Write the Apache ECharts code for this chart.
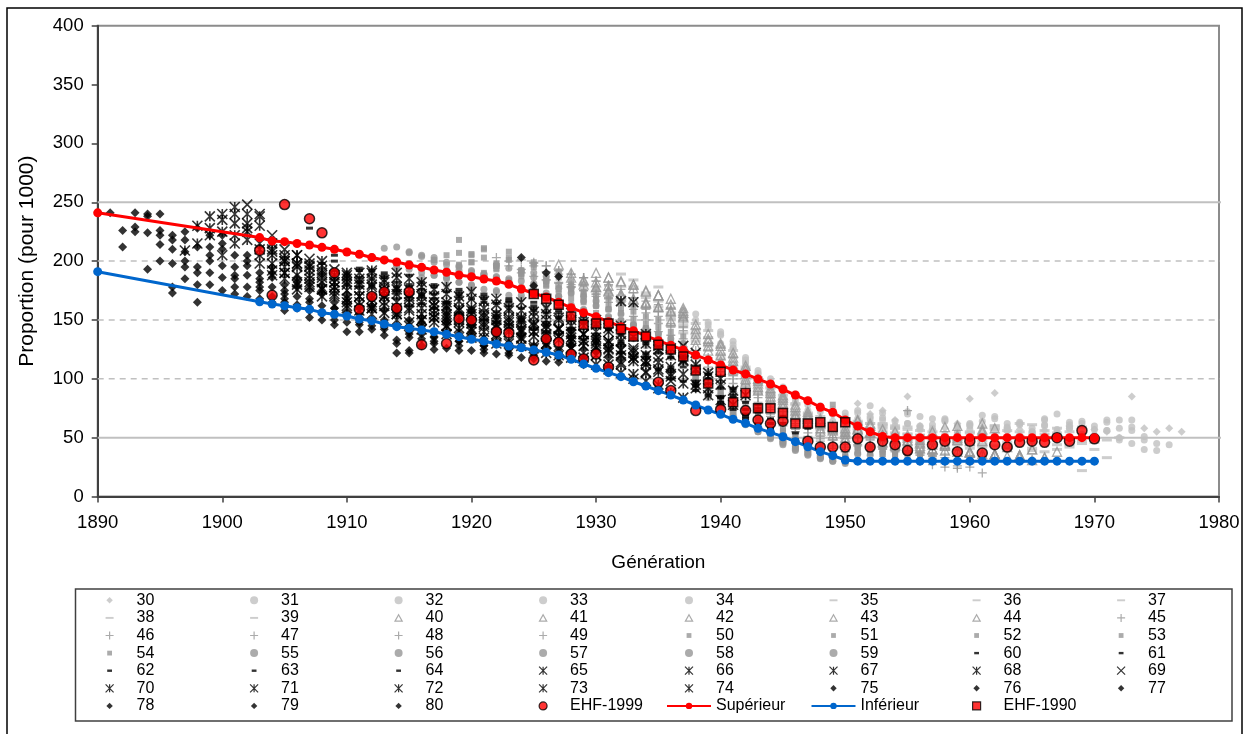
<!DOCTYPE html>
<html><head><meta charset="utf-8">
<script src="https://cdn.jsdelivr.net/npm/echarts@6/dist/echarts.min.js"></script>
<style>html,body{margin:0;padding:0;background:#fff}#c{width:1247px;height:734px}</style>
</head><body><div id="c"></div>
<script>
// ---- data ----
const ages = [30,31,32,33,34,35,36,37,38,39,40,41,42,43,44,45,46,47,48,49,50,51,52,53,54,55,56,57,58,59,60,61,62,63,64,65,66,67,68,69,70,71,72,73,74,75,76,77,78,79,80];
// first generation of each age series (values below are for consecutive generations)
const firstGen = [1941,1940,1939,1938,1937,1936,1935,1934,1933,1932,1931,1930,1929,1928,1927,1926,1925,1924,1923,1922,1921,1920,1919,1918,1917,1916,1915,1914,1913,1912,1911,1910,1909,1908,1907,1906,1905,1904,1903,1902,1901,1900,1899,1898,1897,1896,1895,1894,1893,1892,1891];

const v30 = [121,109,102,92,87,80,82,73,69,62,79,70,73,65,85,60,57,58,62,83,59,88,55,57,53,56,54,60,52,57,55,50,85,58,55,58,55];
const v31 = [138,126,114,105,96,89,84,80,76,72,65,73,77,65,55,62,58,66,53,60,57,64,51,59,62,55,61,53,58,64,52,56,58,65,48,39,44];
const v32 = [146,140,132,118,107,100,93,87,81,77,74,71,66,68,58,64,72,57,61,66,54,60,69,56,62,52,58,65,55,61,50,57,63,48,45,40,45];
const v33 = [155,143,137,129,116,100,94,90,85,78,75,70,68,71,63,67,58,70,60,56,65,59,62,54,68,58,61,55,66,57,63,53,60,56,65,59,51];
const v34 = [158,150,148,130,126,112,104,97,86,82,73,72,64,66,62,66,71,60,62,68,58,64,55,61,52,66,57,63,54,60,70,58,62,52,65,50,56];
const v35 = [160,153,136,141,120,103,110,88,92,74,79,64,68,54,59,63,57,62,58,59,52,55,47,49,45,44,43,56,50,61,48,54,42,59,46,33,50];
const v36 = [178,152,144,147,130,111,124,95,99,80,83,67,70,57,60,52,56,62,58,60,53,56,48,50,45,44,42,57,49,62,46,53,40,55,47,40,48];
const v37 = [173,166,156,139,142,124,127,106,108,90,93,76,78,63,66,55,57,60,58,61,54,57,48,51,45,44,41,52,60,46,55,41,49,58,44,45,48];
const v38 = [178,161,158,145,150,132,135,117,118,98,101,84,86,70,71,58,62,53,58,62,55,58,49,52,45,44,40,54,47,58,43,51,39,56,44,49,22];
const v39 = [189,184,169,161,150,146,139,128,121,112,103,96,88,80,72,66,61,58,55,64,56,60,50,53,46,45,40,48,55,44,60,42,50,46,38,52,45];
const v40 = [179,172,180,164,171,158,160,142,138,128,122,108,100,90,86,76,72,64,60,55,58,62,52,55,47,46,40,44,52,38,47,36,42,35,40,33,38];
const v41 = [182,175,183,167,174,161,168,153,146,132,130,115,111,96,92,82,78,68,66,57,58,65,54,57,49,48,41,44,43,50,38,57,36,45,35,40,33];
const v42 = [184,178,186,170,177,164,171,157,158,138,134,124,118,104,98,88,84,73,70,62,59,53,57,60,51,50,42,43,55,39,48,37,36,58,45,35,31];
const v43 = [186,180,190,174,182,168,175,161,163,152,133,128,120,112,100,93,85,79,70,66,58,56,50,64,54,52,44,50,45,40,59,38,47,62,36,44,33];
const v44 = [197,190,183,178,186,172,180,165,171,149,156,128,124,115,108,97,90,82,76,68,63,56,52,48,57,55,46,43,52,48,40,45,60,37,55,35,34];
const v45 = [196,189,180,186,172,180,166,173,159,153,160,141,124,118,112,103,95,87,80,72,66,60,54,50,46,59,49,43,46,73,38,37,36,36,35,34,33];
const v46 = [198,191,182,189,175,183,169,176,162,156,163,144,151,120,115,106,100,90,84,76,70,62,58,51,48,44,51,43,47,41,39,37,35,33,30,28,20];
const v47 = [201,196,184,192,178,186,172,179,165,159,166,147,154,134,117,110,103,96,88,80,74,66,60,54,49,45,42,43,48,42,40,38,36,34,30,26,25];
const v48 = [200,193,187,196,181,189,175,183,168,162,169,150,157,137,144,112,108,98,92,84,78,70,63,57,51,47,43,40,50,43,41,39,37,35,32,28,24];
const v49 = [203,196,190,199,184,192,178,186,170,165,171,153,160,140,147,127,108,104,95,88,81,74,68,60,55,49,45,41,38,44,42,40,38,36,30,27,25];
const v50 = [203,196,208,192,199,185,191,179,172,167,174,156,162,143,150,130,136,104,99,92,85,78,71,64,58,52,47,43,78,36,44,42,40,39,37,36,35];
const v51 = [205,211,196,203,189,197,183,190,176,170,177,159,165,146,153,133,140,123,100,96,88,82,75,68,62,56,50,45,41,37,34,44,42,40,38,37,35];
const v52 = [207,199,210,193,201,187,195,180,172,173,180,162,168,149,157,137,144,127,120,97,92,85,78,72,66,60,54,48,44,40,36,33,42,40,38,36,35];
const v53 = [205,197,206,190,198,184,192,178,170,176,183,165,171,152,160,140,147,131,124,130,110,98,88,78,71,64,58,52,47,42,38,35,32,41,38,36,35];
const v54 = [201,192,218,199,187,194,182,190,176,179,186,168,174,156,163,144,151,136,129,135,120,108,95,86,77,69,62,56,50,45,41,37,34,31,39,37,36];
const v55 = [195,203,186,196,180,189,174,183,168,181,187,170,177,159,166,147,155,139,132,139,124,130,104,93,83,75,67,60,54,48,43,39,35,32,30,37,35];
const v56 = [198,205,188,199,182,192,176,186,171,183,190,173,180,163,170,151,159,143,136,143,128,134,117,101,90,81,73,65,58,52,47,42,38,34,31,29,36];
const v57 = [196,208,190,201,185,195,179,189,175,185,192,176,183,166,173,154,162,146,138,146,131,138,121,127,98,88,79,71,63,57,51,46,41,37,33,30,28];
const v58 = [200,212,193,204,188,197,182,191,185,187,194,178,186,169,177,158,166,149,142,150,134,142,125,131,114,95,86,77,69,62,55,50,45,40,36,32,30];
const v59 = [204,211,195,207,186,199,180,192,176,188,197,182,171,180,162,170,151,158,145,153,138,146,128,135,118,123,92,84,75,68,61,55,49,44,39,35,33];
const v60 = [192,180,190,178,170,182,172,165,174,158,170,154,166,150,162,146,158,142,153,136,148,130,140,120,130,108,118,96,104,84,92,74,78,62,68,54,58];
const v61 = [188,182,172,186,175,162,176,168,155,170,152,165,148,162,144,158,140,152,136,148,130,142,122,134,112,122,100,110,90,96,78,84,68,72,58,62,48];
const v62 = [205,190,178,185,176,168,180,172,160,174,156,168,150,164,146,160,142,156,138,150,133,145,126,138,118,130,108,118,98,106,86,92,74,80,62,66,52];
const v63 = [212,200,180,186,192,170,182,178,164,178,160,172,156,168,152,165,148,160,145,156,140,150,134,146,128,138,118,128,106,115,94,100,80,86,66,72,56];
const v64 = [228,198,192,185,194,178,188,172,188,170,180,165,176,160,172,157,168,152,165,148,160,143,155,138,150,132,142,122,132,110,120,98,104,85,90,70,75];
const v65 = [198,188,200,182,190,170,192,175,190,168,182,162,178,158,174,154,168,150,165,146,160,142,156,138,150,132,145,124,138,114,126,104,112,92,100,78,86];
const v66 = [205,182,196,186,178,175,190,155,182,165,185,160,176,155,170,150,166,146,160,142,157,138,152,135,148,130,143,124,136,115,128,104,116,95,105,82,90];
const v67 = [210,195,205,180,192,172,185,165,190,170,186,158,178,152,172,148,168,144,163,140,158,136,155,133,150,128,146,122,138,115,130,106,120,96,108,86,95];
const v68 = [230,215,200,188,198,176,188,162,182,168,184,160,176,155,170,150,166,147,160,143,158,140,153,136,150,132,145,126,140,120,165,112,125,102,115,92,102];
const v69 = [248,240,222,210,195,202,182,193,168,185,160,178,155,172,150,165,145,160,142,156,138,152,134,148,130,143,126,138,120,132,114,126,106,118,98,128,122];
const v70 = [246,225,238,205,190,205,185,196,178,188,158,180,162,176,145,170,148,162,140,158,135,152,130,150,126,145,120,140,115,135,108,166,100,120,92,110,84];
const v71 = [240,222,232,215,192,202,176,195,170,182,160,175,165,170,150,165,142,158,138,152,135,148,130,145,128,140,122,136,118,132,112,126,105,118,98,108,88];
const v72 = [228,205,232,240,198,208,185,198,178,188,170,180,162,178,156,172,148,165,152,160,143,155,140,150,132,148,128,142,124,138,118,132,112,125,104,115,95];
const v73 = [215,238,225,240,218,210,188,200,180,192,176,186,165,180,160,175,155,170,150,162,145,158,140,152,136,148,135,145,130,142,126,138,120,130,112,122,105];
const v74 = [209,230,222,235,215,228,205,198,190,196,182,190,175,182,170,185,165,178,160,172,155,165,150,160,146,155,142,152,140,150,136,145,132,140,125,132,118];
const v75 = [210,218,165,212,222,188,200,178,190,168,182,160,175,155,168,148,162,144,122,138,148,135,150,132,145,128,140,126,203,179,130,122,128,115,124,110,118];
const v76 = [240,222,195,228,190,215,195,205,185,195,175,186,165,180,160,172,152,168,148,160,135,152,140,155,138,150,134,147,130,142,128,190,187,135,125,132,118];
const v77 = [193,200,198,225,180,200,210,178,196,175,186,165,178,158,172,150,165,146,160,142,155,122,145,132,150,135,146,128,142,125,138,122,136,125,132,118,125];
const v78 = [225,238,222,173,208,195,222,186,205,178,190,170,180,163,175,150,165,140,160,145,158,130,150,138,130,146,128,140,125,138,122,135,120,132,118,128,112];
const v79 = [212,241,240,226,218,185,212,180,196,172,188,168,178,158,170,152,162,146,156,140,150,137,145,124,134,125,140,124,135,122,131,120,128,117,126,114,122];
const v80 = [241,226,229,224,214,178,200,190,205,175,185,170,182,165,172,160,168,155,160,148,155,142,150,133,140,128,136,126,132,124,130,121,127,118,124,115,120];

const ageValues = [v30,v31,v32,v33,v34,v35,v36,v37,v38,v39,v40,v41,v42,v43,v44,v45,v46,v47,v48,v49,v50,v51,v52,v53,v54,v55,v56,v57,v58,v59,v60,v61,v62,v63,v64,v65,v66,v67,v68,v69,v70,v71,v72,v73,v74,v75,v76,v77,v78,v79,v80];

const ehf1999 = [[1903,209],[1904,171],[1905,248],[1907,236],[1908,224],[1909,190],[1911,159],[1912,170],[1913,174],[1914,160],[1915,174],[1916,129],[1918,130],[1919,151],[1920,150],[1922,140],[1923,139],[1925,116],[1926,134],[1927,131],[1928,121],[1929,117],[1930,121],[1931,110],[1935,97],[1936,90],[1938,73],[1940,74],[1942,73],[1943,65],[1944,62],[1945,64],[1947,47],[1948,42],[1949,42],[1950,42],[1951,49],[1952,42],[1953,47],[1954,44],[1955,39],[1957,44],[1958,47],[1959,38],[1960,47],[1961,37],[1962,44],[1963,42],[1964,46],[1965,47],[1966,46],[1967,50],[1968,47],[1969,56],[1970,49]];
const ehf1990 = [[1925,172],[1926,168],[1927,163],[1928,153],[1929,146],[1930,147],[1931,147],[1932,142],[1933,136],[1934,136],[1935,129],[1936,125],[1937,119],[1938,107],[1939,96],[1940,106],[1941,80],[1942,88],[1943,75],[1944,75],[1945,71],[1946,62],[1947,62],[1948,63],[1949,59],[1950,63]];
const superieur = [[1890,241],[1903,220],[1904,217],[1905,216.5],[1906,215],[1907,213.7],[1908,211.7],[1909,210],[1910,207.7],[1911,205.8],[1912,203],[1913,201],[1914,199.2],[1915,196.7],[1916,194.7],[1917,192.4],[1918,190.5],[1919,188.2],[1920,186.7],[1921,184.8],[1922,183.1],[1923,180.3],[1924,176.3],[1925,172.5],[1926,169.5],[1927,165],[1928,160.4],[1929,156.2],[1930,152.8],[1931,148.5],[1932,144.3],[1933,140.9],[1934,136.4],[1935,132.4],[1936,128.4],[1937,124.5],[1938,120.2],[1939,116],[1940,111.7],[1941,107.5],[1942,104.1],[1943,99.8],[1944,95.6],[1945,91.1],[1946,86.2],[1947,81.4],[1948,75.8],[1949,71.5],[1950,65],[1951,59.9],[1952,55],[1953,51],[1954,50],[1955,50],[1956,50],[1957,50],[1958,50],[1959,50],[1960,50],[1961,50],[1962,50],[1963,50],[1964,50],[1965,50],[1966,50],[1967,50],[1968,50],[1969,50],[1970,50]];
const inferieur = [[1890,191],[1903,165.5],[1904,163.5],[1905,162.1],[1906,160.4],[1907,159],[1908,156.2],[1909,154.8],[1910,153.4],[1911,150.8],[1912,149.4],[1913,146.6],[1914,144.3],[1915,142.9],[1916,141.5],[1917,140],[1918,137.8],[1919,135.8],[1920,133.6],[1921,132.1],[1922,129.6],[1923,127.9],[1924,126.4],[1925,124.5],[1926,122.5],[1927,120.2],[1928,116.6],[1929,112.6],[1930,108.9],[1931,105.2],[1932,101.8],[1933,97.5],[1934,93.9],[1935,89.9],[1936,86.2],[1937,82],[1938,77.7],[1939,73.5],[1940,69.8],[1941,65.6],[1942,62.2],[1943,57.9],[1944,54.5],[1945,50.8],[1946,46.6],[1947,42.3],[1948,38.1],[1949,34.7],[1950,31],[1951,30],[1952,30],[1953,30],[1954,30],[1955,30],[1956,30],[1957,30],[1958,30],[1959,30],[1960,30],[1961,30],[1962,30],[1963,30],[1964,30],[1965,30],[1966,30],[1967,30],[1968,30],[1969,30],[1970,30]];
const solidLevels = [50, 250];
const dashedLevels = [100, 150, 200];
const refLineSpan = [1890, 1983];

// ---- styles ----
const FONT = '"Liberation Sans", Arial, sans-serif';
const LIGHT = '#c0c0c0', MID = '#969696', BLACK = '#000000';
const P_AST = 'path://M0,0L10,10M10,0L0,10M5,0L5,10';
const P_X = 'path://M0,0L10,10M10,0L0,10';
const P_PLUS = 'path://M5,0L5,10M0,5L10,5';
// legend icons (padded so they keep a small, square footprint)
const I_LDASH = 'path://M0,0M10,10M0,3.8L10,3.8L10,6.2L0,6.2Z';
const I_BDASH = 'path://M0,0M10,10M2,3.5L8,3.5L8,6.5L2,6.5Z';
const I_DIAM = 'path://M0,0M10,10M5,1L9,5L5,9L1,5Z';
const I_TRI = 'path://M0,0M10,10M5,1L9.5,9L0.5,9Z';
const I_SQ = 'path://M0,0M10,10M2,2L8,2L8,8L2,8Z';
const I_BIGSQ = 'path://M0,0L10,0L10,10L0,10Z';

function ageStyle(a) {
  if (a === 30) return {symbol: 'diamond', size: 8, fill: LIGHT, icon: I_DIAM};
  if (a <= 34) return {symbol: 'circle', size: 7, fill: LIGHT};
  if (a <= 39) return {symbol: 'rect', size: [10, 3], fill: LIGHT, icon: I_LDASH};
  if (a <= 44) return {symbol: 'triangle', size: 9, stroke: MID, sw: 1.3, icon: I_TRI};
  if (a <= 49) return {symbol: P_PLUS, size: 9, stroke: MID, sw: 1.3};
  if (a <= 54) return {symbol: 'rect', size: 6, fill: MID, icon: I_SQ};
  if (a <= 59) return {symbol: 'circle', size: 7, fill: MID};
  if (a <= 64) return {symbol: 'rect', size: [7, 3], fill: BLACK, icon: I_BDASH};
  if (a === 69) return {symbol: P_X, size: 10, stroke: BLACK, sw: 1.6};
  if (a <= 74) return {symbol: P_AST, size: 10, stroke: BLACK, sw: 1.6};
  return {symbol: 'diamond', size: 9, fill: BLACK, icon: I_DIAM};
}

const series = [];
const legendData = [];
// reference grid lines (extend beyond plot like the original)
solidLevels.concat(dashedLevels).forEach(lv => {
  const solid = solidLevels.includes(lv);
  series.push({
    type: 'line', silent: true, clip: false, z: 1, symbol: 'none',
    data: refLineSpan.map(x => [x, lv]),
    lineStyle: {color: '#c0c0c0', width: solid ? 2 : 1.5, type: solid ? 'solid' : [6, 5]}
  });
});
ages.forEach((a, k) => {
  const st = ageStyle(a);
  const itemStyle = st.stroke
    ? {color: 'rgba(0,0,0,0)', borderColor: st.stroke, borderWidth: st.sw}
    : {color: st.fill};
  series.push({
    name: String(a), type: 'scatter', z: 2,
    symbol: st.symbol, symbolSize: st.size, itemStyle: itemStyle,
    data: ageValues[k].map((v, i) => [firstGen[k] + i, v])
  });
  const ld = {name: String(a)};
  if (st.icon) ld.icon = st.icon;
  legendData.push(ld);
});
series.push({name: 'EHF-1999', type: 'scatter', z: 3, symbol: 'circle', symbolSize: 10,
  itemStyle: {color: '#ff0000', borderColor: '#000', borderWidth: 1.5}, data: ehf1999});
series.push({name: 'Supérieur', type: 'line', z: 3, symbol: 'circle', symbolSize: 9, showSymbol: true,
  itemStyle: {color: '#ff0000'}, lineStyle: {color: '#ff0000', width: 3}, data: superieur});
series.push({name: 'Inférieur', type: 'line', z: 3, symbol: 'circle', symbolSize: 9, showSymbol: true,
  itemStyle: {color: '#0066cc'}, lineStyle: {color: '#0066cc', width: 3}, data: inferieur});
series.push({name: 'EHF-1990', type: 'scatter', z: 3, symbol: 'rect', symbolSize: 9,
  itemStyle: {color: '#ff0000', borderColor: '#000', borderWidth: 1.5}, data: ehf1990});
legendData.push({name: 'EHF-1999'}, {name: 'Supérieur'}, {name: 'Inférieur'}, {name: 'EHF-1990', icon: I_BIGSQ});

// legend: 8 columns, one vertical legend per column
const lineNames = ['Supérieur', 'Inférieur'];
const legends = [];
for (let c = 0; c < 8; c++) {
  const items = legendData.filter((d, i) => i % 8 === c);
  const hasLine = items.some(d => lineNames.includes(d.name));
  legends.push({
    show: true, selectedMode: false, orient: 'vertical',
    left: 88 + c * 144.5 + (hasLine ? 0 : 17), top: 591.5, padding: 0, itemGap: 0,
    itemWidth: 44, itemHeight: 8,
    itemStyle: {borderWidth: 1.2},
    textStyle: {fontSize: 16, color: '#000', fontFamily: FONT, lineHeight: 17.6},
    data: items
  });
}

const axisLineStyle = {color: '#404040', width: 2};
const chart = echarts.init(document.getElementById('c'), null, {renderer: 'canvas'});
chart.setOption({
  animation: false,
  backgroundColor: '#ffffff',
  textStyle: {fontFamily: FONT},
  grid: {left: 97.7, top: 25.7, width: 1121.3, height: 470.8, show: true, borderColor: '#8c8c8c', borderWidth: 2, backgroundColor: 'transparent'},
  xAxis: {
    type: 'value', min: 1890, max: 1980, interval: 10,
    name: 'Génération', nameLocation: 'middle', nameGap: 57,
    nameTextStyle: {fontSize: 19, color: '#000', fontFamily: FONT},
    axisLine: {show: true, onZero: false, lineStyle: axisLineStyle},
    axisTick: {show: true, length: 6, lineStyle: {color: '#404040', width: 1.5}},
    axisLabel: {fontSize: 18.5, color: '#000', margin: 17, fontFamily: FONT, formatter: v => String(v)},
    splitLine: {show: false}
  },
  yAxis: {
    type: 'value', min: 0, max: 400, interval: 50,
    name: 'Proportion (pour 1000)', nameLocation: 'middle', nameGap: 60, nameRotate: 90,
    nameTextStyle: {fontSize: 21, color: '#000', fontFamily: FONT},
    axisLine: {show: true, onZero: false, lineStyle: axisLineStyle},
    axisTick: {show: true, length: 6, lineStyle: {color: '#404040', width: 1.5}},
    axisLabel: {fontSize: 18.5, color: '#000', margin: 14, fontFamily: FONT, formatter: v => String(v)},
    splitLine: {show: false}
  },
  legend: legends,
  graphic: [
    {type: 'rect', z: 100, silent: true, shape: {x: 7, y: 8, width: 1235, height: 760}, style: {fill: 'none', stroke: '#000', lineWidth: 1.5}},
    {type: 'rect', z: 100, silent: true, shape: {x: 75.5, y: 589, width: 1156.5, height: 132}, style: {fill: 'none', stroke: '#404040', lineWidth: 1.5}}
  ],
  series: series
});
</script>
</body></html>
